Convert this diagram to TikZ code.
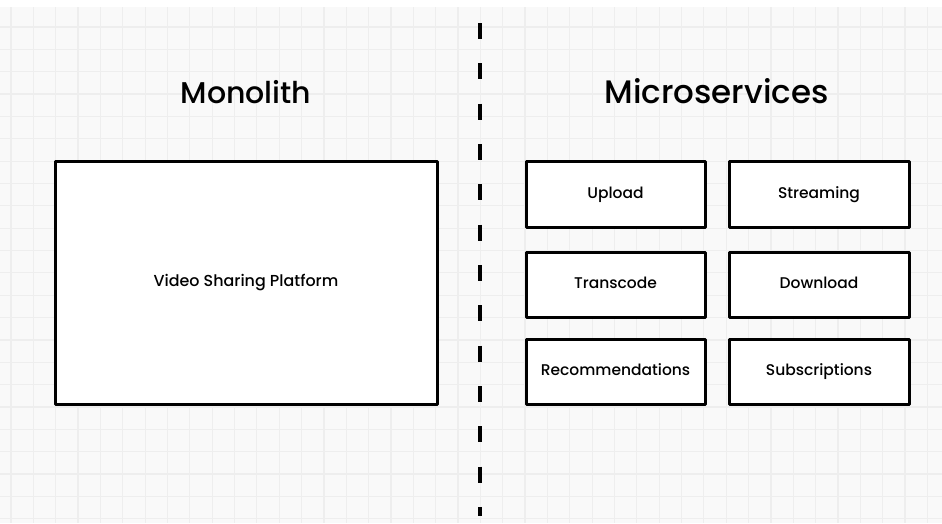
\documentclass[tikz,border=0pt]{standalone}
\usepackage{fontspec}
\setmainfont{Poppins}
\newfontfamily\medfont{Poppins Medium}
\definecolor{gridbg}{HTML}{F9F9F9}
\definecolor{gridln}{HTML}{EEEEEE}
\tikzset{
  gridline/.style={draw=gridln, line width=1.2pt},
  titletext/.style={font=\medfont\fontsize{30}{34}\selectfont, anchor=base, inner sep=0pt},
  svcbox/.style={draw=black, fill=white, line width=3pt, line join=round,
    font=\medfont\fontsize{15.5}{18}\selectfont, text height=0.7em, text depth=0pt, inner sep=0pt},
  divider/.style={draw=black, line width=3.3pt, dash pattern=on 16pt off 24.33pt}
}
\begin{document}
\begin{tikzpicture}[x=1pt,y=-1pt]
\useasboundingbox (0,0) rectangle (942,523);
\fill[gridbg] (0,7) rectangle (942,523);
\foreach \i in {0,...,41} \draw[gridline] ({11+22.35*\i},7) -- ({11+22.35*\i},523);
\foreach \j in {0,...,22} \draw[gridline] (0,{27+22.35*\j}) -- (942,{27+22.35*\j});

\node[titletext] (montitle) at (246,103) {Monolith};
\node[titletext, font=\medfont\fontsize{32.5}{36}\selectfont] (mictitle) at (716.5,103) {Microservices};

\node[svcbox, minimum width=382pt, minimum height=243pt] (mono) at (246,282.5) {\fontsize{15.9}{19}\selectfont Video Sharing Platform};

\node[svcbox, minimum width=179pt, minimum height=66pt] (upload) at (615.5,194.5) {Upload};
\node[svcbox, minimum width=180pt, minimum height=66pt] (stream) at (819,194.5) {Streaming};
\node[svcbox, minimum width=179pt, minimum height=65pt] (transcode) at (615.5,284.5) {Transcode};
\node[svcbox, minimum width=180pt, minimum height=65pt] (download) at (819,284.5) {Download};
\node[svcbox, minimum width=179pt, minimum height=65pt] (reco) at (615.5,371.5) {Recommendations};
\node[svcbox, minimum width=180pt, minimum height=65pt] (subs) at (819,371.5) {Subscriptions};

\coordinate (divtop) at (480,23);
\coordinate (divbot) at (480,516);
\draw[divider] (divtop) -- (divbot);
\end{tikzpicture}
\end{document}
